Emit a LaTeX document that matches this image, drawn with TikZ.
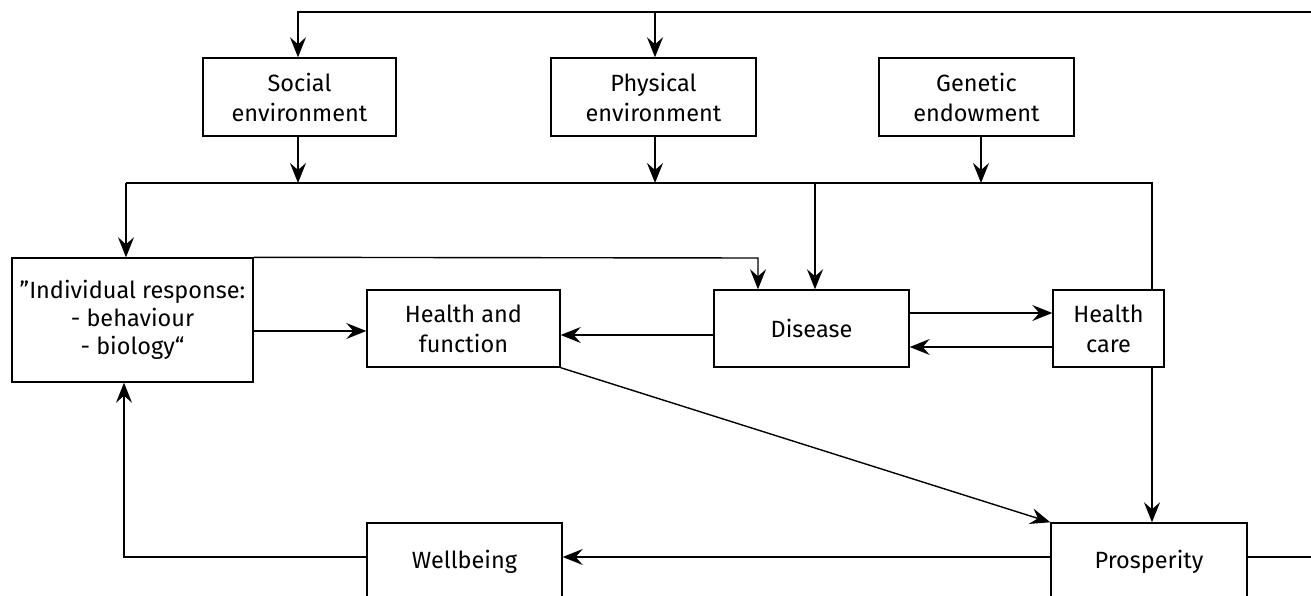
\documentclass[tikz,border=0pt]{standalone}
\usepackage{fontspec}
\setmainfont{Fira Sans}
\usetikzlibrary{arrows.meta}
\begin{document}
\begin{tikzpicture}[x=1pt,y=-1pt,
  box/.style={draw, line width=1.4pt, align=center, inner sep=0pt,
    font=\fontsize{23.5}{30}\selectfont},
  conn/.style={line width=1.4pt},
  arr/.style={conn, -{Stealth[length=20pt,width=16pt,inset=7pt]}}]
\clip (0,0) rectangle (1311,596);
\useasboundingbox (0,0) rectangle (1311,596);
\node[box, minimum width=193pt, minimum height=78pt] (social) at (299.5,97) {Social\\environment};
\node[box, minimum width=205pt, minimum height=78pt] (physical) at (653.5,97) {Physical\\environment};
\node[box, minimum width=195pt, minimum height=78pt] (genetic) at (976.5,97) {Genetic\\endowment};
\node[box, minimum width=241pt, minimum height=124pt, font=\fontsize{23.5}{28}\selectfont] (indiv) at (132.5,320) {\char"201D Individual response:\\- behaviour\\- biology\char"201C};
\node[box, minimum width=193pt, minimum height=77pt] (health) at (463.5,328.5) {Health and\\function};
\node[box, minimum width=195pt, minimum height=77pt] (disease) at (811.5,328.5) {Disease};
\node[box, minimum width=111pt, minimum height=77pt] (care) at (1108.5,328.5) {Health\\care};
\node[box, minimum width=195pt, minimum height=77pt] (wellbeing) at (464.5,561.5) {Wellbeing};
\node[box, minimum width=196pt, minimum height=77pt] (prosperity) at (1149,561.5) {Prosperity};

\coordinate (busL) at (126,183);
\coordinate (busR) at (1152,183);
\coordinate (feedR) at (1340,557);
\coordinate (feedT) at (1340,12);
\coordinate (topS) at (298,12);
\coordinate (topP) at (655,12);

% feedback loop from prosperity around to the top
\draw[arr] (prosperity.east |- feedR) -- (feedR) -- (feedT) -- (topS) -- (social.north -| topS);
\draw[arr] (topP) -- (physical.north -| topP);

% environment to bus
\draw[arr] (social.south -| topS) -- (298,183);
\draw[arr] (physical.south -| topP) -- (655,183);
\draw[arr] (genetic.south -| 981,0) -- (981,183);

% bus
\draw[conn] (busL) -- (busR) -- (care.north -| busR);
\draw[arr] (busL) -- (indiv.north -| busL);
\draw[arr] (815,183) -- (disease.north -| 815,0);

% individual to disease
\draw[arr] (indiv.north east) -- (758,258) -- (disease.north -| 758,0);

% horizontal links
\draw[arr] (indiv.east |- 0,331) -- (health.west |- 0,331);
\draw[arr] (disease.west |- 0,335) -- (health.east |- 0,335);
\draw[arr] (disease.east |- 0,313) -- (care.west |- 0,313);
\draw[arr] (care.west |- 0,347) -- (disease.east |- 0,347);

% to prosperity
\draw[arr] (health.south east) -- (prosperity.north west);
\draw[arr] (care.south -| busR) -- (prosperity.north -| busR);

% prosperity to wellbeing to individual
\draw[arr] (prosperity.west |- 0,557) -- (wellbeing.east |- 0,557);
\draw[arr] (wellbeing.west |- 0,557) -- (124,557) -- (indiv.south -| 124,0);
\end{tikzpicture}
\end{document}
